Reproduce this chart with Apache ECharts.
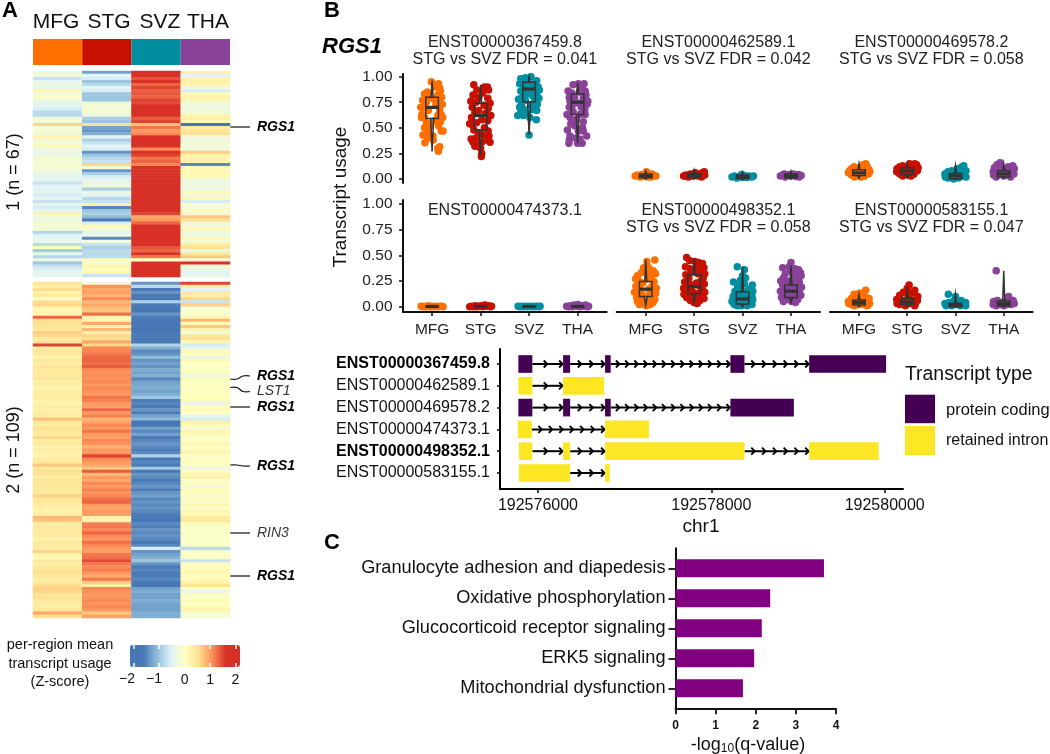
<!DOCTYPE html>
<html><head><meta charset="utf-8">
<style>html,body{margin:0;padding:0;background:#fff}#c{width:1050px;height:754px}</style>
<script src="https://cdn.jsdelivr.net/npm/echarts@6/dist/echarts.min.js"></script>
</head><body><div id="c"></div>
<script>
const regions=['MFG','STG','SVZ','THA'];
const regionColors=['#FF6F00','#C71000','#008EA0','#8A4198'];
// Heatmap, cluster 1 (n = 67)
const hm1MFG=[-.25,-.25,-.7,-.45,-.3,-.45,.2,-.25,-.05,-.35,-.4,-.5,-.6,-.8,-.8,-.25,-.2,.6,-.2,-.15,-.3,.2,-.25,-.2,.1,-.35,-.35,-.3,-.2,-.2,-.15,-.2,-.25,-.4,-.5,-.45,-.7,-.55,-.5,-.45,-.6,-.45,-.7,-.5,-.6,-.45,.2,-.3,-.35,-.15,-.2,-.2,-.85,-.55,-.45,-.4,-.8,.05,-.95,-.45,-.85,-.35,-1,-.7,-.6,-.45,-.45];
const hm1STG=[-1.3,-.5,-.6,-1,-.8,-.5,-.6,-1,-1,-1,-.3,-.2,-.2,-.2,-.3,-.9,-1,.55,-1.3,-1.4,-1.2,-.5,-.9,-.7,-.5,-.6,-1.4,-1,-.8,-.7,.6,-.2,-1.4,-.9,-.6,-.5,-.3,-.25,-.9,-.3,-.5,-.8,-.7,.25,-1.5,-1,-.9,-1.1,-1.6,-.6,.1,-.2,-.5,-.3,-1.5,-.25,-.7,-.9,-.8,-.8,-.8,.1,-.2,.15,.05,.1,-.7];
const hm1SVZ=[1.6,1.8,1.4,1.6,1.3,1.5,1.35,1.4,1.3,1.5,1.45,1.8,1.9,1.8,1.6,1.35,1.5,.75,1.2,1,1.1,1.6,1.6,1.7,1.6,1.1,1.6,1.5,1.2,1.3,1.1,1.7,1.9,1.9,1.8,1.9,1.9,1.8,1.9,1.8,1.9,1.7,1.9,1.6,1.7,1.8,1.5,.9,1,1.3,1.8,1.7,1.8,1.7,1.9,1.6,1.7,1.4,1.3,1.6,1.2,0,1.9,1.9,1.9,1.9,1.9];
const hm1THA=[.25,-.5,.2,.25,.2,-.3,-.6,.1,.2,.15,-.3,-.3,-.3,-.25,.15,.25,.1,-1.9,.35,.45,.5,-.25,-.25,-.2,-.25,-.25,.65,.2,.2,.25,-1.5,.05,.1,.15,.1,-.3,-.35,-.25,-.35,.1,-.3,.15,-.6,-.1,-.25,.05,-.25,.7,.55,-.3,-.25,.15,-.3,-.35,.1,-.2,.3,.5,-.35,.4,.7,-.25,1.6,-.25,-.3,-.5,-.4];
// Heatmap, cluster 2 (n = 109)
const hm2MFG=[.45,.3,.55,.25,.35,-.05,.55,.6,.2,.15,.15,1.3,.5,.5,.45,.4,.65,.6,.3,.45,1.5,.25,.45,.35,.2,.4,.3,.45,.4,.4,.35,.45,.25,.3,.2,.25,.35,.3,.25,.2,.3,.25,.35,.3,.75,.45,.3,.5,.4,.35,.6,.3,.4,.2,.3,.25,.2,.3,.4,.7,.35,.5,.45,.3,.45,.4,.45,.4,.4,.65,.4,.4,.3,.25,.2,.3,.8,.7,.3,.35,.4,.35,.3,.25,.4,.35,.3,.6,.2,.15,.35,.3,.4,.45,.5,.4,.3,.35,.55,.65,.6,.45,.5,.4,.3,.3,.45,.9,.5];
const hm2STG=[-.3,1.05,.9,.95,.85,1.1,.8,.9,.75,.7,1.25,.15,.2,.9,.2,.8,.3,.6,.5,.9,.6,1.1,1.1,1.2,1.3,1.3,1.25,1.35,1.1,1.05,1.1,1.05,1.1,1,1.1,1.05,1,1.2,1.15,1,.95,1.3,1,1.15,.8,.9,1.1,1,1.2,1,.95,1.1,1.05,.85,1,1,1.5,1.1,1,.9,.7,1.35,.8,1,.9,1.1,1,1.15,1.05,1.1,1.25,1.3,1,.9,1,.95,.25,.2,1.15,1.2,1.1,1.3,1.1,1,1.25,1.1,1,.95,1.2,1.25,1.45,1.2,1.1,1.15,1,.9,1.2,.7,.3,1.1,1.05,1,1.05,1.1,1.05,1.1,1,.7,.95];
const hm2SVZ=[-1.4,-.8,-1.7,-1.4,-1.8,-1.9,-.9,-1.6,-1.9,-1.8,-1.4,-1.6,-1.8,-1.9,-1.8,-2,-1.9,-1.8,-2,-1.9,-.85,-1.2,-1.5,-1.4,-1.1,-1.4,-1.3,-1.4,-1.2,-1.3,-1.2,-1.5,-1.3,-1.25,-1.2,-1.3,-1.2,-1,-1.6,-1.5,-1.6,-1.4,-1.6,-1.3,-1.1,-1.8,-1.9,-1.3,-1.5,-1.3,-1.6,-1.5,-1.4,-1.5,-1.6,-1.5,-.9,-1.7,-1.5,-1.6,-.95,-1.7,-1.4,-1.5,-1.6,-1.5,-1.4,-1.6,-1.4,-1.3,-1.5,-1.4,-1.5,-1.4,-1.5,-1.6,-1.9,-2,-1.5,-1.6,-1.4,-1.5,-1.4,-1.5,-1.7,-1.5,-.6,-1.4,-1.3,-1.2,-1,-1.4,-1.7,-1.5,-1.7,-1.6,-1.5,-1.7,-1.9,-1.3,-1.2,-1.3,-1.3,-1.2,-1.3,-1.3,-1.3,-1.2,-1.2];
const hm2THA=[1.5,.3,-.5,.35,.3,.6,-.7,.65,-.25,-.1,-.1,.15,.8,.1,.7,.2,-.2,.45,.5,.15,-.6,-.4,.1,.05,-.4,.1,0,-.1,-.05,.05,-.4,.1,-.05,.05,-.05,0,.05,0,.05,-.4,0,.1,-.05,-.4,-.6,.25,.1,-.2,.2,.1,-.1,-.05,.15,-.05,.05,.2,0,-.1,.05,-.05,-.35,.05,.15,.25,-.1,.05,-.3,.1,.05,-.15,.05,-.1,.1,-.05,.15,.1,.35,.4,.05,-.1,-.05,-.1,-.05,-.1,-.05,-.1,-.8,-.1,-.05,-.1,-.7,.05,-.05,.1,.15,.05,.1,.2,.45,-.05,-.4,0,-.1,.05,-.05,.1,.25,-.2,-.15];
const colorStops=['#4575b4','#4a7ab6','#91bfdb','#e0f3f8','#ffffbf','#fee090','#fc8d59','#d73027','#d73027'];
const colorbarTicks=[-2,-1,0,1,2];
const colorbarLabels=[0,1,2];
// Transcript usage: [offset from category centre, usage]
const f1MFG=[[-.02,.95],[.17,.93],[.2,.89],[.08,.9],[.22,.86],[-.12,.85],[-.2,.83],[.15,.82],[.25,.8],[-.08,.8],[-.25,.77],[.05,.78],[.2,.76],[-.15,.75],[-.3,.7],[.27,.73],[.1,.72],[-.22,.7],[.2,.68],[-.1,.67],[-.27,.63],[.24,.63],[.15,.62],[-.2,.6],[.28,.6],[-.28,.6],[.05,.57],[.22,.56],[-.15,.55],[.17,.52],[-.05,.52],[-.2,.5],[.24,.47],[.29,.47],[-.1,.46],[-.24,.43],[.02,.42],[-.12,.4],[-.19,.355],[.03,.38],[.15,.3],[.2,.315],[.165,.27]];
const f1STG=[[-.18,.92],[.1,.9],[.18,.9],[.21,.87],[-.1,.87],[.05,.84],[-.2,.82],[-.05,.8],[.19,.79],[-.26,.76],[.25,.74],[-.12,.75],[.09,.72],[-.22,.7],[.2,.69],[-.05,.67],[-.15,.65],[.13,.64],[.27,.62],[-.24,.6],[.03,.58],[.19,.57],[-.11,.55],[-.29,.54],[-.22,.53],[.1,.5],[-.18,.48],[.2,.47],[-.06,.45],[.05,.43],[.22,.42],[-.25,.39],[-.12,.4],[.17,.38],[.25,.36],[-.2,.36],[.03,.36],[-.15,.32],[0,.3],[.03,.25],[.02,.22],[-.08,.33]];
const f1SVZ=[[-.22,.98],[-.1,.99],[.05,1],[-.16,.95],[.2,.96],[.12,.93],[-.25,.93],[-.02,.92],[.24,.9],[-.13,.89],[.17,.88],[.27,.87],[-.22,.86],[.05,.85],[-.05,.83],[.2,.82],[.1,.81],[-.18,.8],[.26,.79],[-.28,.78],[-.1,.77],[.15,.76],[-.2,.73],[.22,.73],[.04,.72],[-.25,.7],[-.13,.68],[.1,.68],[.2,.67],[-.22,.65],[-.05,.64],[-.3,.62],[-.15,.62],[.02,.6],[.19,.58],[0,.43]];
const f1THA=[[.02,.93],[-.12,.92],[.17,.93],[-.25,.86],[.1,.89],[.2,.86],[-.15,.84],[.05,.85],[.22,.82],[-.22,.8],[-.08,.8],[.15,.79],[.27,.76],[-.2,.76],[.03,.74],[-.14,.72],[.25,.73],[.1,.7],[-.22,.7],[.19,.68],[-.28,.63],[-.12,.66],[.06,.63],[.2,.63],[-.2,.6],[-.05,.58],[.15,.56],[-.18,.54],[-.08,.52],[.13,.5],[.02,.47],[-.27,.48],[.15,.47],[-.2,.42],[-.05,.4],[.24,.42],[.06,.39],[-.22,.38],[.12,.35],[-.23,.35],[0,.35]];
const f2MFG=[[-.28,.03],[-.22,.04],[-.15,.02],[-.1,.045],[-.05,.025],[0,.05],[.05,.02],[.1,.04],[.17,.05],[.22,.03],[.27,.03],[.13,.02],[-.18,.03],[.02,.07]];
const f2STG=[[-.28,.03],[-.22,.04],[-.15,.02],[-.1,.05],[-.03,.03],[.03,.06],[.1,.03],[.15,.05],[.22,.06],[.28,.04],[.27,.07],[.2,.02],[-.2,.025]];
const f2SVZ=[[-.28,.02],[-.22,.03],[-.15,.01],[-.08,.025],[0,.015],[.05,.035],[.12,.015],[.18,.03],[.25,.02],[.29,.03],[-.03,.045]];
const f2THA=[[-.28,.03],[-.22,.04],[-.15,.02],[-.08,.045],[0,.03],[.07,.05],[.13,.025],[.2,.045],[.27,.035],[.22,.02],[-.18,.05]];
const f3MFG=[[-.28,.06],[-.25,.08],[-.2,.04],[-.2,.1],[-.12,.02],[-.1,.09],[-.13,.12],[-.02,.06],[0,.11],[.05,.02],[.08,.1],[.1,.14],[.15,.03],[.17,.08],[.18,.15],[.25,.05],[.27,.09],[.29,.07],[.22,.12]];
const f3STG=[[-.28,.07],[-.27,.1],[-.2,.05],[-.2,.12],[-.12,.03],[-.1,.09],[-.12,.13],[0,.05],[.02,.12],[.06,.15],[.1,.03],[.12,.09],[.18,.05],[.2,.13],[.2,.15],[.27,.08],[.29,.11],[.25,.14],[.15,.12]];
const f3SVZ=[[-.28,.05],[-.27,.02],[-.2,.07],[-.2,.01],[-.12,.04],[-.1,.08],[-.05,0],[0,.05],[.05,.1],[.08,.01],[.12,.07],[.17,.12],[.2,.03],[.24,.06],[.28,.02],[.28,.08],[.22,.13]];
const f3THA=[[-.28,.07],[-.27,.04],[-.25,.11],[-.2,.02],[-.18,.14],[-.1,.06],[-.1,.1],[-.1,.16],[0,.03],[.03,.09],[.1,.05],[.12,.12],[.18,.02],[.2,.09],[.27,.05],[.28,.1],[.24,.13]];
const f4MFG=[[-.29,.005],[-.24,0],[-.19,.005],[-.14,0],[-.09,.01],[-.04,0],[.01,.005],[.06,0],[.11,.005],[.16,0],[.21,.005],[.26,.005],[.29,0]];
const f4STG=[[-.29,0],[-.24,.005],[-.19,0],[-.14,.01],[-.09,0],[-.04,.005],[.01,.01],[.06,0],[.11,.015],[.16,.005],[.21,.01],[.26,0],[.29,.005]];
const f4SVZ=[[-.29,.005],[-.24,0],[-.19,.005],[-.14,0],[-.09,.005],[-.04,0],[.01,.005],[.06,0],[.11,.005],[.16,0],[.21,.005],[.26,0],[.29,.005]];
const f4THA=[[-.29,.005],[-.24,0],[-.19,.01],[-.14,0],[-.09,.015],[-.04,.005],[.01,.02],[.06,0],[.11,.01],[.16,.005],[.21,.015],[.26,0],[.29,.005]];
const f5MFG=[[.24,.455],[.03,.44],[.08,.38],[-.06,.38],[.2,.35],[.1,.33],[.26,.32],[-.12,.33],[-.22,.3],[.15,.29],[-.27,.27],[.05,.27],[-.18,.25],[.22,.24],[-.08,.23],[-.26,.2],[.17,.2],[.28,.18],[-.15,.18],[.08,.17],[-.3,.14],[-.2,.14],[.2,.13],[.26,.13],[-.1,.12],[.1,.11],[-.24,.09],[.15,.09],[-.13,.07],[.24,.07],[-.22,.05],[-.05,.05],[.08,.05],[.19,.04],[-.17,.02],[-.03,.02],[.12,.02],[.02,.01]];
const f5STG=[[-.2,.48],[-.12,.45],[.02,.44],[.12,.43],[.22,.42],[-.23,.39],[.08,.39],[.26,.38],[-.1,.37],[.2,.35],[-.05,.34],[.28,.32],[-.22,.31],[.1,.32],[-.14,.28],[.24,.28],[.18,.25],[-.25,.24],[.06,.23],[-.12,.22],[.27,.22],[.15,.2],[-.28,.18],[-.18,.18],[.22,.16],[-.05,.15],[.28,.14],[-.27,.12],[.12,.13],[-.12,.12],[.2,.1],[-.2,.09],[.05,.09],[.26,.08],[-.1,.06],[.15,.06],[0,.04],[.08,.03]];
const f5SVZ=[[-.14,.39],[.05,.36],[0,.3],[-.05,.26],[.08,.28],[-.24,.24],[.05,.22],[.26,.21],[-.13,.2],[.18,.17],[-.2,.15],[-.05,.16],[.12,.15],[.27,.15],[.2,.12],[-.1,.12],[-.25,.1],[.05,.1],[.25,.1],[-.18,.08],[-.02,.07],[.15,.07],[.27,.07],[-.28,.05],[-.1,.04],[.08,.04],[.2,.04],[-.22,.02],[-.03,.01],[.12,.01],[.25,.02],[-.14,.01]];
const f5THA=[[0,.43],[-.22,.38],[-.05,.39],[.1,.37],[-.01,.35],[.12,.33],[.2,.36],[.25,.33],[-.15,.32],[.06,.31],[.27,.3],[-.2,.28],[.12,.27],[-.27,.25],[-.08,.25],[.22,.24],[.02,.22],[-.22,.21],[.17,.2],[.28,.19],[-.12,.18],[.06,.17],[-.28,.15],[.22,.14],[-.18,.13],[-.02,.12],[.13,.12],[.26,.11],[-.25,.09],[.08,.08],[-.1,.07],[.18,.07],[-.2,.05],[.02,.05],[.12,.04]];
const f6MFG=[[-.28,.05],[-.27,.03],[-.2,.08],[-.2,.02],[-.13,.12],[-.1,.05],[-.12,.01],[-.02,.09],[0,.02],[.07,.05],[.08,.13],[.12,.02],[.15,.1],[.18,.16],[.2,.06],[.27,.08],[.28,.03],[.22,.01],[.01,.13]];
const f6STG=[[-.28,.07],[-.27,.03],[-.2,.11],[-.2,.02],[-.13,.06],[-.1,.14],[-.05,.01],[0,.18],[.02,.09],[.05,.21],[.08,.03],[.12,.13],[.15,.06],[.2,.16],[.2,.01],[.27,.06],[.28,.1],[.22,.03]];
const f6SVZ=[[-.28,.03],[-.25,.01],[-.19,.12],[-.18,.04],[-.1,.01],[-.07,.05],[0,.02],[0,.1],[.06,.05],[.13,.01],[.15,.06],[.2,.03],[.27,.01],[.27,.04]];
const f6THA=[[-.2,.35],[-.28,.02],[-.27,.05],[-.2,.01],[-.17,.06],[-.1,.02],[-.07,.04],[0,.01],[.05,.05],[.1,.02],[.13,.1],[.15,.05],[.2,.02],[.28,.03],[.25,.06]];
// Box statistics per region: [lower, q1, median, q3, upper]
const box1=[[.27,.59,.70,.80,.96],[.22,.48,.62,.74,.92],[.43,.755,.88,.945,1],[.35,.63,.75,.83,.94]];
const box2=[[0,.012,.03,.05,.08],[0,.015,.035,.055,.09],[0,.005,.02,.04,.07],[0,.012,.03,.05,.08]];
const box3=[[.01,.035,.06,.09,.15],[.01,.045,.08,.11,.15],[0,.003,.03,.055,.13],[.01,.02,.05,.08,.15]];
const box4=[[0,0,.002,.004,.01],[0,0,.002,.004,.01],[0,0,.002,.004,.01],[0,0,.002,.004,.01]];
const box5=[[.015,.10,.17,.245,.46],[.04,.125,.195,.31,.47],[0,.025,.075,.145,.39],[.04,.09,.15,.21,.40]];
const box6=[[0,.015,.04,.065,.12],[0,.02,.045,.08,.16],[0,0,.015,.03,.12],[0,.01,.03,.055,.35]];
const facetTitles=[
 ['ENST00000367459.8','STG vs SVZ FDR = 0.041'],['ENST00000462589.1','STG vs SVZ FDR = 0.042'],['ENST00000469578.2','STG vs SVZ FDR = 0.058'],
 ['ENST00000474373.1'],['ENST00000498352.1','STG vs SVZ FDR = 0.058'],['ENST00000583155.1','STG vs SVZ FDR = 0.047']];
const usageTicks=[0,.25,.5,.75,1];
// Transcript structures
const transcripts=['ENST00000367459.8','ENST00000462589.1','ENST00000469578.2','ENST00000474373.1','ENST00000498352.1','ENST00000583155.1'];
const boldTranscripts=[0,4];
const exonsProteinCoding=[[1,192575774,192575935],[1,192576290,192576371],[1,192576774,192576839],[1,192578220,192578382],[1,192579129,192580016],[3,192575774,192575935],[3,192576290,192576371],[3,192576774,192576839],[3,192578220,192578952]];
const exonsRetainedIntron=[[2,192575774,192575935],[2,192576290,192576763],[4,192575769,192575930],[4,192576774,192577280],[5,192575780,192575935],[5,192576290,192576371],[5,192576774,192578382],[5,192579129,192579930],[6,192575780,192576371],[6,192576774,192576828]];
const introns=[[1,192575935,192576290,2],[1,192576371,192576774,3],[1,192576839,192578220,13],[1,192578382,192579129,6],[2,192575935,192576290,2],[3,192575935,192576290,2],[3,192576371,192576774,3],[3,192576839,192578220,13],[4,192575930,192576774,7],[5,192575935,192576290,2],[5,192576371,192576774,3],[5,192578382,192579129,6],[6,192576371,192576774,3]];
const genomeTicks=[192576000,192578000,192580000];
// Pathways
const pathways=['Granulocyte adhesion and diapedesis','Oxidative phosphorylation','Glucocorticoid receptor signaling','ERK5 signaling','Mitochondrial dysfunction'];
const qValues=[3.7,2.36,2.15,1.96,1.68];

const FONT='"Liberation Sans",Arial,sans-serif';
const grid=[],xAxis=[],yAxis=[],series=[];
function addGrid(l,t,r,b,x,y){const i=grid.length;grid.push({left:l,top:t,width:r-l,height:b-t,containLabel:false});xAxis.push(Object.assign({gridIndex:i,splitLine:{show:false}},x));yAxis.push(Object.assign({gridIndex:i,splitLine:{show:false}},y));return i;}
const hidden={show:false,axisLine:{show:false},axisTick:{show:false},axisLabel:{show:false}};

let gi=addGrid(33,39,230,65,Object.assign({type:'category',data:regions},hidden),Object.assign({type:'value',min:0,max:1},hidden));
series.push({type:'bar',xAxisIndex:gi,yAxisIndex:gi,barWidth:'100%',silent:true,data:regionColors.map(c=>({value:1,itemStyle:{color:c}}))});

function hmSeries(cols,top,bottom){
  const n=cols[0].length;const rows=[...Array(n).keys()];
  const g=addGrid(33,top,230,bottom,Object.assign({type:'category',data:regions},hidden),Object.assign({type:'category',data:rows,inverse:true},hidden));
  const d=[];cols.forEach((c,x)=>c.forEach((v,y)=>d.push([x,y,v])));
  series.push({type:'heatmap',xAxisIndex:g,yAxisIndex:g,data:d,silent:true,progressive:0});
  return series.length-1;
}
const h1=hmSeries([hm1MFG,hm1STG,hm1SVZ,hm1THA],71,277);
const h2=hmSeries([hm2MFG,hm2STG,hm2SVZ,hm2THA],282,618);

const cbAxis={type:'value',min:-2.15,max:2.18,z:10,axisLine:{show:false},axisTick:{show:true,inside:true,length:4,lineStyle:{color:'#fff',width:1.5},customValues:colorbarTicks}};
const cbGrid=addGrid(130,645,240,667,Object.assign({},cbAxis,{position:'bottom',axisLabel:{show:true,margin:6.5,fontSize:14,color:'#111',customValues:colorbarLabels}}),Object.assign({type:'value',min:0,max:1},hidden));

const facetData=[[f1MFG,f1STG,f1SVZ,f1THA],[f2MFG,f2STG,f2SVZ,f2THA],[f3MFG,f3STG,f3SVZ,f3THA],[f4MFG,f4STG,f4SVZ,f4THA],[f5MFG,f5STG,f5SVZ,f5THA],[f6MFG,f6STG,f6SVZ,f6THA]];
const facetBox=[box1,box2,box3,box4,box5,box6];
const colX=[[403,606.7],[616.7,820],[830,1032.7]];
const rowY=[[74,183,-.039,1.026],[200,312,-.052,1.039]];
const jitterWidth=.78;
function boxItem(p,api){
  const x=api.value(0),[lo,q1,med,q3,hi]=[1,2,3,4,5].map(i=>api.value(i));
  const c=v=>api.coord([x,v]);const w=6.3,t=c(q3),b=c(q1),m=c(med),l=c(lo),h=c(hi);
  const s={stroke:'#333',fill:'rgba(0,0,0,0)',lineWidth:1.5};
  return {type:'group',children:[
    {type:'polyline',shape:{points:[[t[0]-1,t[1]],[h[0],h[1]],[t[0]+1,t[1]]]},style:s},
    {type:'polyline',shape:{points:[[b[0]-1.5,b[1]],[l[0],l[1]],[b[0]+1.5,b[1]]]},style:s},
    {type:'rect',shape:{x:t[0]-w,y:t[1],width:2*w,height:b[1]-t[1]},style:s},
    {type:'line',shape:{x1:m[0]-w,y1:m[1],x2:m[0]+w,y2:m[1]},style:{stroke:'#333',lineWidth:3.2}}
  ]};
}
const axisCol='#111';
facetData.forEach((pts,f)=>{
  const c=f%3,r=Math.floor(f/3),[l,rr]=colX[c],[t,b,mn,mx]=rowY[r];
  const xa={type:'value',min:.4,max:4.6};
  if(r===1)Object.assign(xa,{axisLine:{show:true,onZero:false,lineStyle:{color:axisCol,width:2}},axisTick:{show:true,length:4,lineStyle:{color:axisCol,width:1.5},customValues:[1,2,3,4]},axisLabel:{show:true,margin:10,fontSize:15.5,color:'#222',customValues:[1,2,3,4],formatter:v=>regions[v-1]}});
  else Object.assign(xa,hidden);
  const ya={type:'value',min:mn,max:mx};
  if(c===0)Object.assign(ya,{axisLine:{show:true,onZero:false,lineStyle:{color:axisCol,width:2}},axisTick:{show:true,length:4,lineStyle:{color:axisCol,width:1.5},customValues:usageTicks},axisLabel:{show:true,margin:10.5,fontSize:15.5,color:'#222',customValues:usageTicks,formatter:v=>v.toFixed(2)}});
  else Object.assign(ya,hidden);
  const g=addGrid(l,t,rr,b,xa,ya);
  pts.forEach((arr,i)=>series.push({type:'scatter',xAxisIndex:g,yAxisIndex:g,symbolSize:7.5,clip:false,silent:true,itemStyle:{color:regionColors[i],opacity:1},data:arr.map(p=>[i+1+p[0]*jitterWidth,p[1]])}));
  series.push({type:'custom',coordinateSystem:'cartesian2d',xAxisIndex:g,yAxisIndex:g,clip:false,silent:true,z:5,renderItem:boxItem,encode:{x:0,y:[1,2,3,4,5]},data:facetBox[f].map((s,i)=>[i+1,...s])});
});

const tg=addGrid(500,349,903,489,
 {type:'value',min:192575562,max:192580211,axisLine:{show:true,onZero:false,lineStyle:{color:'#000',width:2}},axisTick:{show:true,length:4,lineStyle:{color:'#000',width:1.5},customValues:genomeTicks},axisLabel:{show:true,margin:9,fontSize:16,color:'#111',customValues:genomeTicks,formatter:v=>String(v)}},
 {type:'value',inverse:true,min:.312,max:6.734,axisLine:{show:true,onZero:false,lineStyle:{color:'#000',width:2}},axisTick:{show:true,length:3,lineStyle:{color:'#000',width:1.5},customValues:[1,2,3,4,5,6]},axisLabel:{show:true,margin:10,customValues:[1,2,3,4,5,6],color:'#111',fontSize:16,formatter:v=>{const i=v-1;return boldTranscripts.includes(i)?'{b|'+transcripts[i]+'}':transcripts[i];},rich:{b:{fontWeight:'bold',fontSize:16,color:'#000'}}}});
function exonItem(p,api){const a=api.coord([api.value(1),api.value(0)]),b=api.coord([api.value(2),api.value(0)]),h=api.size([0,.81])[1];
  return {type:'rect',shape:{x:a[0],y:a[1]-h/2,width:b[0]-a[0],height:h},style:{fill:api.visual('color')}};}
function intronItem(p,api){const n=api.value(3),a=api.coord([api.value(1),api.value(0)]),b=api.coord([api.value(2),api.value(0)]),y=a[1];
  const ch=[{type:'line',shape:{x1:a[0],y1:y,x2:b[0],y2:y},style:{stroke:'#000',lineWidth:2}}];
  const step=(b[0]-a[0])/n;
  for(let i=0;i<n;i++){const x=b[0]-i*step-.5;ch.push({type:'polyline',shape:{points:[[x-3.5,y-3.5],[x,y],[x-3.5,y+3.5]]},style:{stroke:'#000',fill:'rgba(0,0,0,0)',lineWidth:1.9}});}
  return {type:'group',children:ch};}
series.push({type:'custom',coordinateSystem:'cartesian2d',xAxisIndex:tg,yAxisIndex:tg,silent:true,renderItem:intronItem,encode:{x:[1,2],y:0},data:introns});
series.push({type:'custom',coordinateSystem:'cartesian2d',xAxisIndex:tg,yAxisIndex:tg,silent:true,renderItem:exonItem,encode:{x:[1,2],y:0},itemStyle:{color:'#440154'},data:exonsProteinCoding});
series.push({type:'custom',coordinateSystem:'cartesian2d',xAxisIndex:tg,yAxisIndex:tg,silent:true,renderItem:exonItem,encode:{x:[1,2],y:0},itemStyle:{color:'#FDE725'},data:exonsRetainedIntron});

const pg=addGrid(675.5,548.3,836,708.3,
 {type:'value',min:0,max:4,interval:1,axisLine:{show:true,onZero:false,lineStyle:{color:'#111',width:2}},axisTick:{show:true,length:6,lineStyle:{color:'#111',width:1.8}},axisLabel:{show:true,margin:11,fontSize:12,fontWeight:'bold',color:'#111'}},
 {type:'value',inverse:true,min:.333,max:5.667,axisLine:{show:true,onZero:false,lineStyle:{color:'#111',width:2}},axisTick:{show:true,length:7,lineStyle:{color:'#111',width:1.8},customValues:[1,2,3,4,5]},axisLabel:{show:true,margin:10,fontSize:18.2,color:'#111',customValues:[1,2,3,4,5],formatter:v=>pathways[v-1]}});
series.push({type:'custom',coordinateSystem:'cartesian2d',xAxisIndex:pg,yAxisIndex:pg,silent:true,encode:{x:0,y:1},
 renderItem:(p,api)=>{const a=api.coord([0,api.value(1)]),b=api.coord([api.value(0),api.value(1)]),h=api.size([0,.6])[1];return {type:'rect',shape:{x:a[0],y:a[1]-h/2,width:b[0]-a[0],height:h},style:{fill:'#800080'}};},
 data:qValues.map((v,i)=>[v,i+1])});
// second (top) tick axis of the colour bar; added last so axis indices stay equal to grid indices
xAxis.push(Object.assign({},cbAxis,{gridIndex:cbGrid,position:'top',splitLine:{show:false},axisLabel:{show:false}}));

function txt(text,x,y,font,o){return Object.assign({type:'text',x,y,silent:true,style:Object.assign({text,font:font+' '+FONT,fill:'#111',align:'center',verticalAlign:'middle',textAlign:'center',textVerticalAlign:'middle'},o&&o.style)},o&&o.el);}
const left={style:{align:'left',textAlign:'left'}};
const g=[
 txt('A',10,11,'bold 22px',{style:{fill:'#000'}}),txt('B',332,11,'bold 22px',{style:{fill:'#000'}}),txt('C',332,543,'bold 22px',{style:{fill:'#000'}}),
 txt('MFG',56,22,'21px'),txt('STG',109,22,'21px'),txt('SVZ',160,22,'21px'),txt('THA',208,22,'21px'),
 txt('1 (n = 67)',14,172,'18px',{el:{rotation:Math.PI/2}}),txt('2 (n = 109)',14,450,'18px',{el:{rotation:Math.PI/2}}),
 txt('per-region mean',60,645,'14.5px'),txt('transcript usage',60,663.5,'14.5px'),txt('(Z-score)',60,682,'14.5px'),
 txt('\u22122',127,679,'14px'),txt('\u22121',154,679,'14px'),
 txt('RGS1',322,47,'italic bold 22px',{style:{align:'left',textAlign:'left',fill:'#000'}}),
 txt('Transcript usage',341,197,'19px',{el:{rotation:Math.PI/2}}),
 txt('Transcript type',905,375,'19.4px',left),txt('protein coding',946,410,'16.5px',left),txt('retained intron',946,441,'16px',left),
 txt('chr1',701,527,'19px'),
 {type:'text',x:748,y:745,silent:true,style:{text:'{a|-log}{s|10}{a|(q-value)}',align:'center',verticalAlign:'middle',textAlign:'center',textVerticalAlign:'middle',rich:{a:{font:'18px '+FONT,fill:'#111'},s:{font:'12px '+FONT,fill:'#111',padding:[8,0,0,0]}}}},
 {type:'rect',shape:{x:905,y:394.7,width:30,height:28.5},style:{fill:'#440154'}},
 {type:'rect',shape:{x:905,y:426,width:30,height:29},style:{fill:'#FDE725'}},
];
const geneLabels=[['RGS1',127,127,1],['RGS1',379,376,1],['LST1',387.5,391.5,0],['RGS1',407,407,1],['RGS1',465,466,1],['RIN3',533,533,0],['RGS1',576,576,1]];
geneLabels.forEach(([n,y0,y1,b])=>{
  g.push({type:'polyline',silent:true,shape:{points:[[230,y0],[237,y0],[243,y1],[250,y1]],smooth:y0===y1?0:.4},style:{stroke:'#111',lineWidth:1.2,fill:'rgba(0,0,0,0)'}});
  g.push(txt(n,257,y1,(b?'italic bold':'italic')+' 14px',{style:{align:'left',textAlign:'left',fill:b?'#000':'#333'}}));
});
facetTitles.forEach((t,f)=>{
  const c=f%3,r=Math.floor(f/3),cx=(colX[c][0]+colX[c][1])/2,y0=r?211:42.5;
  t.forEach((s,i)=>g.push(txt(s,cx,y0+i*17,'16px',{style:{fill:'#222'}})));
});

const chart=echarts.init(document.getElementById('c'),null,{renderer:'canvas'});
chart.setOption({animation:false,backgroundColor:'#fff',textStyle:{fontFamily:FONT},tooltip:{show:false},
 grid,xAxis,yAxis,series,graphic:{elements:g},
 visualMap:{type:'continuous',seriesIndex:[h1,h2],dimension:2,min:-2.15,max:2.15,calculable:false,hoverLink:false,orient:'horizontal',left:130,top:645,padding:0,itemWidth:22,itemHeight:110,text:null,showLabel:false,inRange:{color:colorStops}}});
</script></body></html>
